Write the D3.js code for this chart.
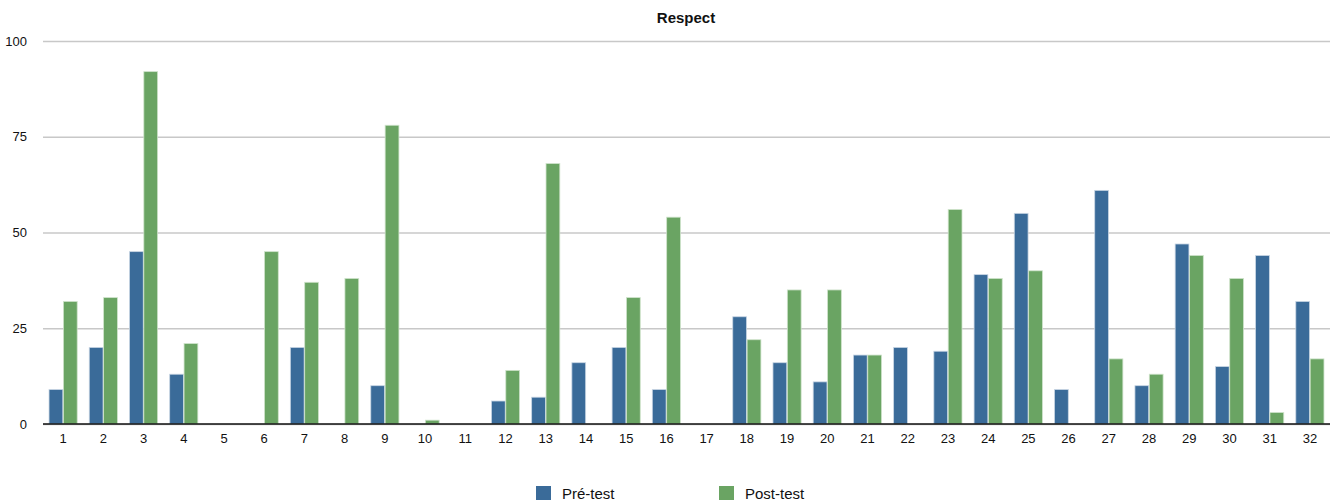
<!DOCTYPE html>
<html>
<head>
<meta charset="utf-8">
<script src="https://cdn.jsdelivr.net/npm/d3@7"></script>
<style>
  html, body { margin: 0; padding: 0; background: #fff; }
  svg { display: block; font-family: "Liberation Sans", Arial, Helvetica, sans-serif; }
</style>
</head>
<body>
<svg id="chart" width="1333" height="502"></svg>
<script>
// Scores per participant, before and after the intervention
const categories = d3.range(1, 33).map(String);
const preTest  = [9, 20, 45, 13, 0, 0, 20, 0, 10, 0, 0, 6, 7, 16, 20, 9, 0, 28, 16, 11, 18, 20, 19, 39, 55, 9, 61, 10, 47, 15, 44, 32];
const postTest = [32, 33, 92, 21, 0, 45, 37, 38, 78, 1, 0, 14, 68, 0, 33, 54, 0, 22, 35, 35, 18, 0, 56, 38, 40, 0, 17, 13, 44, 38, 3, 17];
const seriesNames = ["Pré-test", "Post-test"];
const seriesColors = ["#3a6b99", "#6aa463"];
const yTicks = [0, 25, 50, 75, 100];
const chartTitle = "Respect";

const svg = d3.select("#chart");
const margin = { left: 43, right: 3, top: 41, bottom: 78 };
const W = 1333, H = 502;

const x = d3.scaleBand().domain(categories).range([margin.left, W - margin.right]).paddingInner(0.3).paddingOuter(0.15);
const xs = d3.scaleBand().domain([0, 1]).range([0, x.bandwidth()]).paddingInner(0.04);
const y = d3.scaleLinear().domain([0, 100]).range([H - margin.bottom, margin.top]);

// Title
svg.append("text")
  .attr("x", 686).attr("y", 23)
  .attr("text-anchor", "middle")
  .attr("font-weight", "bold").attr("font-size", 15)
  .attr("fill", "#111")
  .text(chartTitle);

// Horizontal gridlines and y labels
const yAxis = d3.axisLeft(y).tickValues(yTicks).tickSize(-(W - margin.right - margin.left)).tickPadding(16);
const gy = svg.append("g").attr("transform", `translate(${margin.left},0)`).call(yAxis);
gy.select(".domain").remove();
gy.selectAll(".tick line").attr("stroke", "#c8c8c8").attr("stroke-width", 1.3);
gy.selectAll(".tick text").attr("font-size", 13).attr("fill", "#111").attr("font-family", "Liberation Sans, Arial, sans-serif");

// Bars
const data = categories.map((c, i) => ({ c, vals: [preTest[i], postTest[i]] }));
const groups = svg.append("g").selectAll("g").data(data).join("g")
  .attr("transform", d => `translate(${x(d.c)},0)`);
groups.selectAll("rect")
  .data(d => d.vals.map((v, k) => ({ v, k })).filter(e => e.v > 0))
  .join("rect")
  .attr("x", e => xs(e.k))
  .attr("width", xs.bandwidth())
  .attr("y", e => y(e.v))
  .attr("height", e => y(0) - y(e.v))
  .attr("fill", e => seriesColors[e.k])
  .attr("stroke", e => e.k === 0 ? "#c9d6e4" : "#cfe3cb")
  .attr("stroke-width", 0.8);

// X axis baseline and labels
const xAxis = d3.axisBottom(x).tickSize(0).tickPadding(10);
const gx = svg.append("g").attr("transform", `translate(0,${y(0)})`).call(xAxis);
gx.select(".domain").attr("stroke", "#111").attr("stroke-width", 1.5)
  .attr("d", `M${margin.left},0H${W - margin.right}`);
gx.selectAll(".tick text").attr("font-size", 13).attr("fill", "#111").attr("font-family", "Liberation Sans, Arial, sans-serif");

// Legend
const legendX = [536, 719];
const legend = svg.append("g").selectAll("g").data(seriesNames).join("g")
  .attr("transform", (d, i) => `translate(${legendX[i]},486)`);
legend.append("rect").attr("width", 15).attr("height", 14).attr("fill", (d, i) => seriesColors[i]);
legend.append("text").attr("x", 26).attr("y", 13).attr("font-size", 15).attr("fill", "#111").text(d => d);
</script>
</body>
</html>
